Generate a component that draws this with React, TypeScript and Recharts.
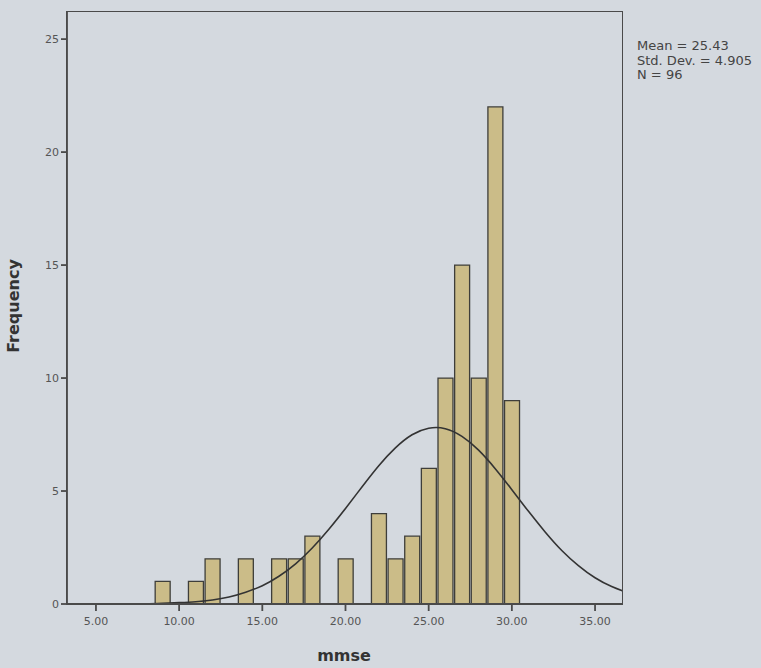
import React from "react"
import { ComposedChart, Bar, Line, XAxis, YAxis } from "recharts"

// histogram bins of mmse (bin width 1)
const binCenters = [9, 11, 12, 14, 16, 17, 18, 20, 22, 23, 24, 25, 26, 27, 28, 29, 30]
const binCounts = [1, 1, 2, 2, 2, 2, 3, 2, 4, 2, 3, 6, 10, 15, 10, 22, 9]

// normal curve
const curveX = [3, 4, 5, 6, 7, 8, 9, 10, 11, 12, 13, 14, 15, 16, 17, 18, 19, 20, 21, 22, 23, 24, 25, 26, 27, 28, 29, 30, 31, 32, 33, 34, 35, 36, 37]
const curveY = [0, 0, 0, 0, 0.01, 0.01, 0.03, 0.06, 0.1, 0.18, 0.31, 0.52, 0.81, 1.23, 1.78, 2.48, 3.31, 4.23, 5.19, 6.12, 6.91, 7.49, 7.78, 7.76, 7.42, 6.81, 5.99, 5.06, 4.1, 3.19, 2.37, 1.7, 1.16, 0.77, 0.49]

const xTicks = [5, 10, 15, 20, 25, 30, 35]
const yTicks = [0, 5, 10, 15, 20, 25]
const stats = ["Mean = 25.43", "Std. Dev. = 4.905", "N = 96"]

const xDomain = [3.26, 36.62]
const W = 761
const H = 668
const margin = { top: 12, right: 139, bottom: 0, left: 0 }
const yAxisW = 67
const xAxisH = 64
const plotW = W - margin.left - margin.right - yAxisW
const plotH = H - margin.top - xAxisH
const barW = plotW / (xDomain[1] - xDomain[0])

const rows = curveX.map((x, i) => {
  const k = binCenters.indexOf(x)
  return { x, curve: curveY[i], count: k >= 0 ? binCounts[k] : undefined }
})

const bg = "#d4d9df"
const axisCol = "#4a4a4a"
const tickStyle = { fontFamily: "DejaVu Sans", fontSize: 11, fill: "#555" }

export default function App() {
  return (
    <div style={{ position: "absolute", left: 0, top: 0, width: W, height: H, background: bg }}>
      <ComposedChart width={W} height={H} data={rows} margin={margin} barCategoryGap={0} barGap={0}>
        <XAxis
          dataKey="x"
          type="number"
          domain={xDomain}
          ticks={xTicks}
          tickFormatter={(v: number) => v.toFixed(2)}
          height={xAxisH}
          tickSize={7}
          tickMargin={6}
          stroke={axisCol}
          strokeWidth={1.8}
          tick={tickStyle}
          allowDataOverflow
          label={{
            content: () => (
              <text x={344} y={661} textAnchor="middle" fontFamily="DejaVu Sans" fontWeight="bold" fontSize={16} fill="#333">
                mmse
              </text>
            ),
          }}
        />
        <YAxis
          type="number"
          domain={[0, 26.2]}
          ticks={yTicks}
          width={yAxisW}
          tickSize={6}
          tickMargin={2}
          stroke={axisCol}
          strokeWidth={1.8}
          tick={tickStyle}
          allowDataOverflow
          label={{
            content: () => (
              <text x={19} y={306} transform="rotate(-90 19 306)" textAnchor="middle" fontFamily="DejaVu Sans" fontWeight="bold" fontSize={16} fill="#333">
                Frequency
              </text>
            ),
          }}
        />
        <Bar dataKey="count" barSize={barW} fill="#cbbc88" stroke="#3e3e3a" strokeWidth={1.3} isAnimationActive={false} />
        <Line dataKey="curve" type="natural" stroke="#333" strokeWidth={1.6} dot={false} isAnimationActive={false} />
      </ComposedChart>
      {/* plot frame */}
      <div
        style={{
          position: "absolute",
          left: margin.left + yAxisW - 0.9,
          top: margin.top - 0.9,
          width: plotW + 1.8,
          height: plotH + 1.8,
          border: "1.8px solid " + axisCol,
          boxSizing: "border-box",
          pointerEvents: "none",
        }}
      />
      <div style={{ position: "absolute", left: 637, top: 39, fontFamily: "DejaVu Sans", fontSize: 13, lineHeight: "14.5px", color: "#444", whiteSpace: "nowrap" }}>
        {stats.map((s) => (
          <div key={s}>{s}</div>
        ))}
      </div>
    </div>
  )
}
